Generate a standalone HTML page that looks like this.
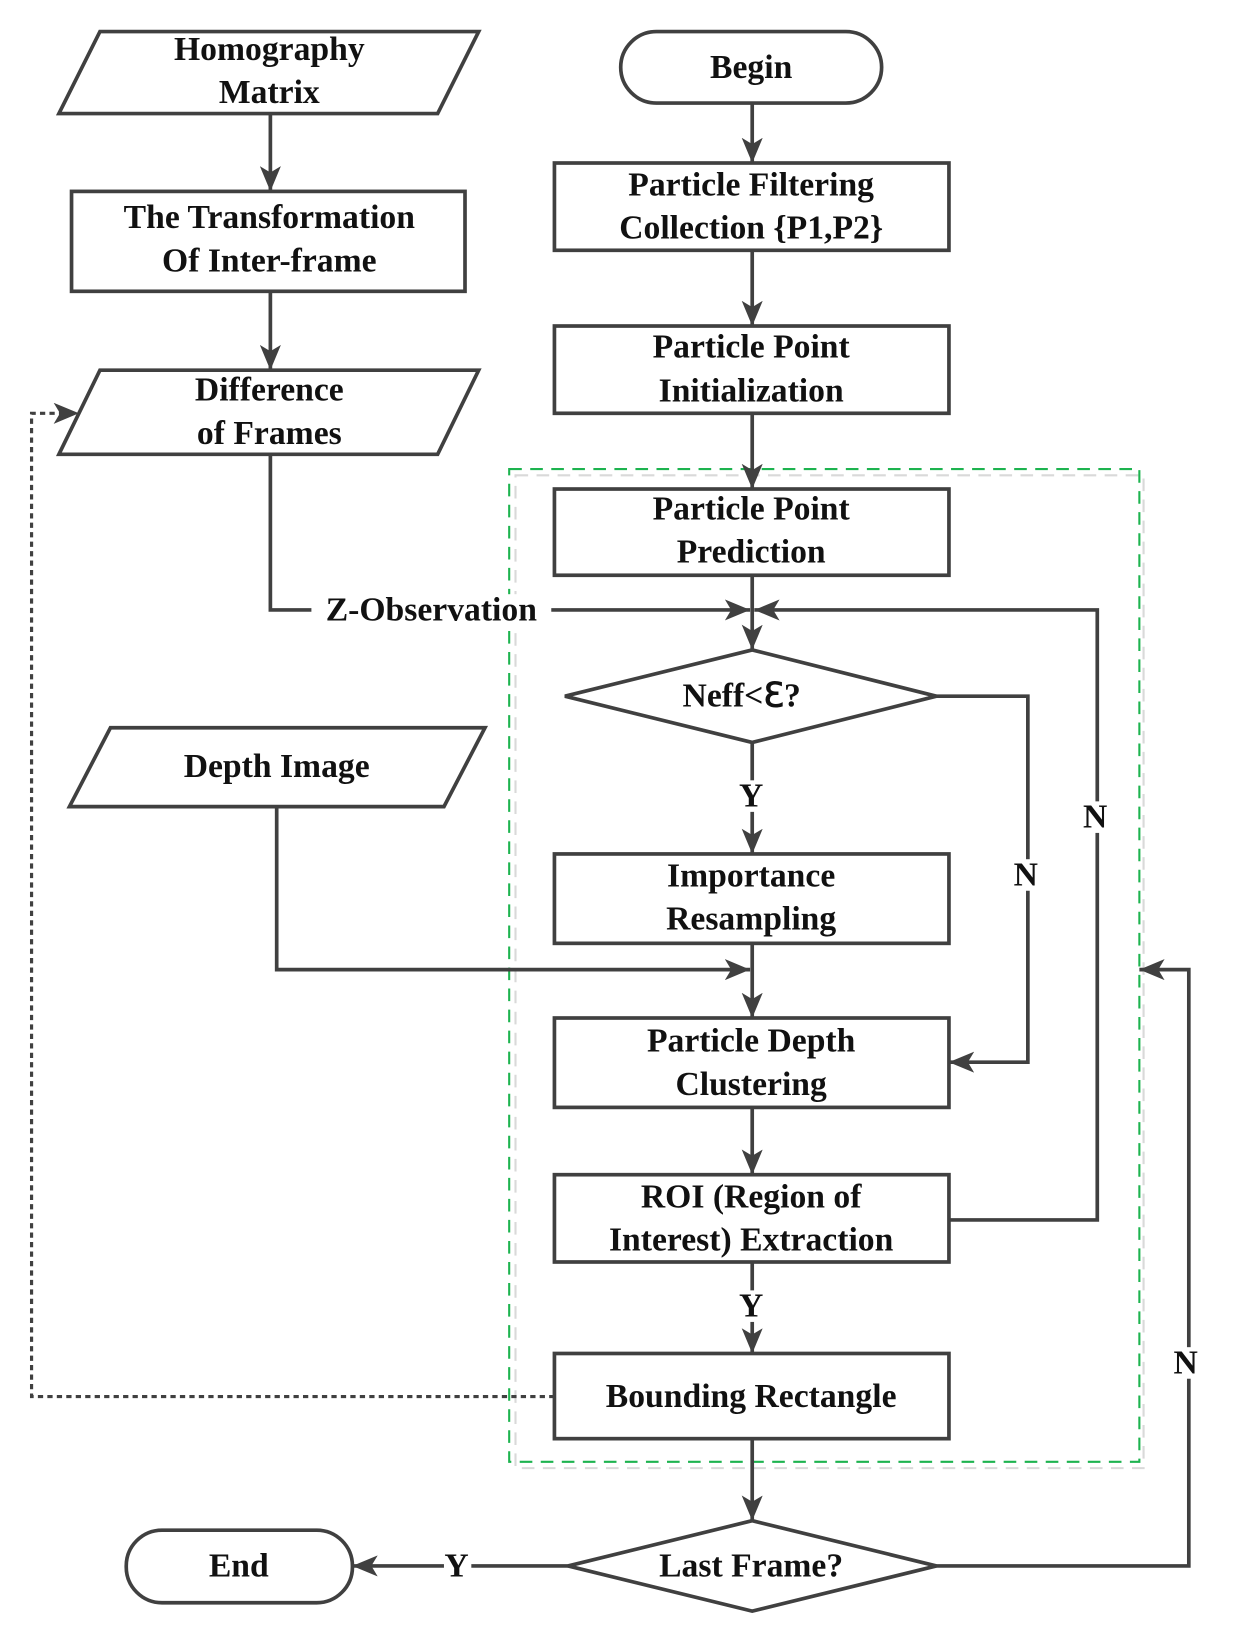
<!DOCTYPE html>
<html><head><style>html,body{margin:0;padding:0;background:#fff}svg{display:block}
text{font-family:"Liberation Serif",serif;font-weight:bold;font-size:32px;fill:#111;text-anchor:middle;dominant-baseline:central}</style></head>
<body>
<svg width="1233" height="1649" viewBox="0 0 1172 1568" preserveAspectRatio="none" xmlns="http://www.w3.org/2000/svg">
<defs>
<marker id="a" viewBox="0 0 24 20" refX="24" refY="10" markerWidth="24" markerHeight="20" markerUnits="userSpaceOnUse" orient="auto">
<path d="M0,0 L24,10 L0,20 L6,10 Z" fill="#404040"/></marker>
</defs>
<g fill="none" stroke="#d9d9d9" stroke-width="2" stroke-dasharray="12,8"><rect x="490" y="452" width="597" height="944"/></g>
<g fill="none" stroke="#1db34f" stroke-width="2" stroke-dasharray="12,8"><rect x="484" y="446" width="599" height="944"/></g>
<g fill="#fff" stroke="#404040" stroke-width="3.5">
<polygon points="95,30 455,30 416,108 56,108"/>
<rect x="68" y="182" width="374" height="95"/>
<polygon points="95,352 455,352 416,432 56,432"/>
<polygon points="105,692 461,692 422,767 66,767"/>
<rect x="590" y="30" width="248" height="68" rx="34"/>
<rect x="527" y="155" width="375" height="83"/>
<rect x="527" y="310" width="375" height="83"/>
<rect x="527" y="465" width="375" height="82"/>
<polygon points="537,662 715,618 890,662 715,706"/>
<rect x="527" y="812" width="375" height="85"/>
<rect x="527" y="968" width="375" height="85"/>
<rect x="527" y="1117" width="375" height="83"/>
<rect x="527" y="1287" width="375" height="81"/>
<polygon points="540,1489 715,1446 890,1489 715,1532"/>
<rect x="120" y="1455" width="215" height="69" rx="34"/>
</g>
<g fill="none" stroke="#404040" stroke-width="3.5">
<line x1="257" y1="108" x2="257" y2="182" marker-end="url(#a)"/>
<line x1="257" y1="277" x2="257" y2="352" marker-end="url(#a)"/>
<polyline points="257,432 257,580 713,580" marker-end="url(#a)"/>
<line x1="715" y1="98" x2="715" y2="155" marker-end="url(#a)"/>
<line x1="715" y1="238" x2="715" y2="310" marker-end="url(#a)"/>
<line x1="715" y1="393" x2="715" y2="465" marker-end="url(#a)"/>
<line x1="715" y1="547" x2="715" y2="618" marker-end="url(#a)"/>
<polyline points="902,1160 1043,1160 1043,580 717,580" marker-end="url(#a)"/>
<polyline points="890,662 977,662 977,1010 902,1010" marker-end="url(#a)"/>
<line x1="715" y1="706" x2="715" y2="812" marker-end="url(#a)"/>
<line x1="715" y1="897" x2="715" y2="968" marker-end="url(#a)"/>
<polyline points="263,767 263,922 713,922" marker-end="url(#a)"/>
<line x1="715" y1="1053" x2="715" y2="1117" marker-end="url(#a)"/>
<line x1="715" y1="1200" x2="715" y2="1287" marker-end="url(#a)"/>
<line x1="715" y1="1368" x2="715" y2="1446" marker-end="url(#a)"/>
<polyline points="890,1489 1130,1489 1130,922 1083,922" marker-end="url(#a)"/>
<line x1="540" y1="1489" x2="335" y2="1489" marker-end="url(#a)"/>
<polyline points="527,1328 30,1328 30,393 75,393" stroke-width="3" stroke-dasharray="5,4" marker-end="url(#a)"/>
</g>
<g fill="#fff">
<rect x="296" y="565" width="228" height="30"/>
<rect x="700" y="742" width="28" height="30"/>
<rect x="962" y="817" width="30" height="30"/>
<rect x="1028" y="762" width="30" height="30"/>
<rect x="700" y="1227" width="28" height="30"/>
<rect x="1113" y="1281" width="30" height="30"/>
<rect x="422" y="1474" width="26" height="30"/>
</g>
<text x="256" y="47">Homography</text><text x="256" y="88">Matrix</text>
<text x="256" y="207">The Transformation</text><text x="256" y="248">Of Inter-frame</text>
<text x="256" y="371">Difference</text><text x="256" y="412">of Frames</text>
<text x="263" y="729">Depth Image</text>
<text x="410" y="580">Z-Observation</text>
<text x="714" y="64">Begin</text>
<text x="714" y="176">Particle Filtering</text><text x="714" y="217">Collection {P1,P2}</text>
<text x="714" y="330">Particle Point</text><text x="714" y="372">Initialization</text>
<text x="714" y="484">Particle Point</text><text x="714" y="525">Prediction</text>
<text x="705" y="662">Neff&lt;ℇ?</text>
<text x="714" y="757">Y</text>
<text x="975" y="832">N</text>
<text x="1041" y="777">N</text>
<text x="714" y="833">Importance</text><text x="714" y="874">Resampling</text>
<text x="714" y="990">Particle Depth</text><text x="714" y="1031">Clustering</text>
<text x="714" y="1138">ROI (Region of</text><text x="714" y="1179">Interest) Extraction</text>
<text x="714" y="1242">Y</text>
<text x="714" y="1328">Bounding Rectangle</text>
<text x="714" y="1489">Last Frame?</text>
<text x="1127" y="1296">N</text>
<text x="434" y="1489">Y</text>
<text x="227" y="1489">End</text>
</svg>
</body></html>
